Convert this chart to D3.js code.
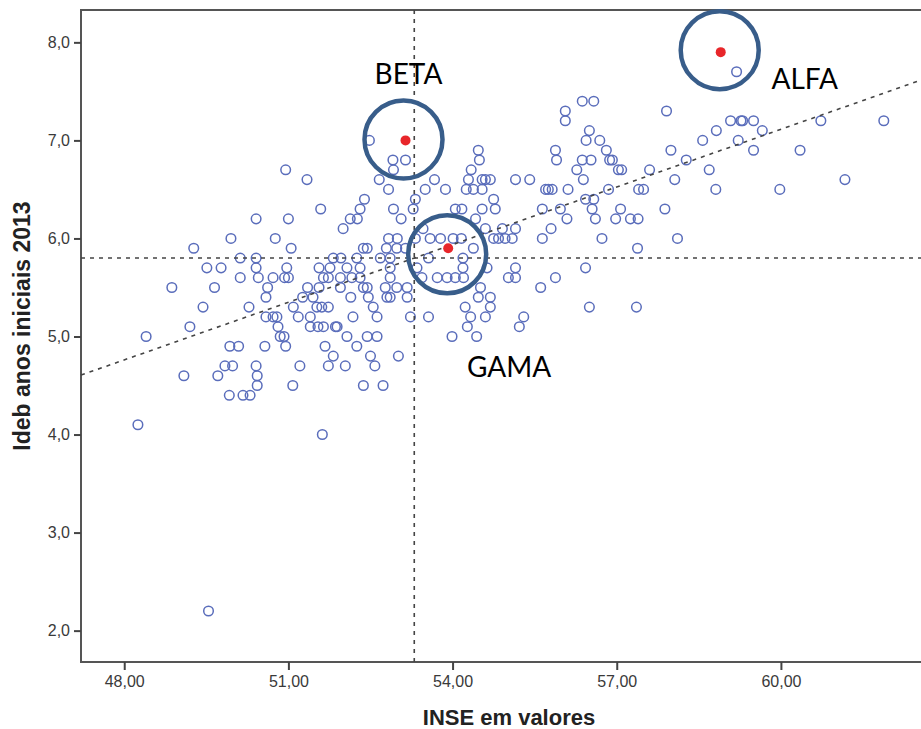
<!DOCTYPE html>
<html>
<head>
<meta charset="utf-8">
<script src="https://cdn.jsdelivr.net/npm/d3@7"></script>
<style>
  body { margin: 0; background: #fff; }
  svg { display: block; }
</style>
</head>
<body>
<svg id="chart" width="921" height="729"></svg>
<script>
// INSE (x) vs Ideb anos iniciais 2013 (y), one pair per school
const schools = [
  [50.95,6.7],[51.34,6.6],[50.41,6.2],[51.0,6.2],[49.95,6.0],[50.76,6.0],[49.27,5.9],[51.05,5.9],
  [50.12,5.8],[50.41,5.8],[49.51,5.7],[49.77,5.7],[50.41,5.7],[50.97,5.7],[50.12,5.6],[50.45,5.6],
  [50.72,5.6],[50.93,5.6],[51.0,5.6],[48.87,5.5],[49.65,5.5],[50.62,5.5],[51.35,5.5],[50.59,5.4],
  [51.26,5.4],[48.40,5.0],[49.20,5.1],[49.44,5.3],[50.28,5.3],[50.59,5.2],[50.72,5.2],[50.79,5.2],
  [50.81,5.1],[50.85,5.0],[50.92,5.0],[50.95,4.9],[51.09,5.3],[51.18,5.2],[51.40,5.1],[49.93,4.9],
  [50.09,4.9],[50.57,4.9],[49.84,4.7],[49.98,4.7],[50.41,4.7],[49.09,4.6],[49.71,4.6],[50.43,4.6],
  [50.43,4.5],[51.08,4.5],[51.21,4.7],[49.92,4.4],[50.17,4.4],[50.30,4.4],[48.25,4.1],[49.54,2.2],
  [52.91,6.8],[53.14,6.8],[52.92,6.7],[52.66,6.6],[52.83,6.5],[53.50,6.5],[53.67,6.6],[52.39,6.4],
  [53.32,6.4],[51.59,6.3],[52.31,6.3],[52.92,6.3],[53.28,6.3],[52.13,6.2],[52.26,6.2],[53.06,6.2],
  [52.00,6.1],[53.46,6.1],[52.83,6.0],[52.99,6.0],[53.32,6.0],[52.37,5.9],[52.44,5.9],[52.79,5.9],
  [52.98,5.9],[53.14,5.9],[51.82,5.8],[51.96,5.8],[52.25,5.8],[52.68,5.8],[52.86,5.8],[53.56,5.8],
  [51.56,5.7],[51.76,5.7],[52.07,5.7],[52.31,5.7],[52.86,5.7],[53.35,5.7],
  [51.64,5.6],[51.73,5.6],[51.95,5.6],[52.16,5.6],[52.31,5.6],[52.86,5.6],[53.44,5.6],
  [51.56,5.5],[51.95,5.5],[52.37,5.5],[52.44,5.5],[52.77,5.5],[52.98,5.5],[53.17,5.5],
  [51.45,5.4],[52.14,5.4],[52.46,5.4],[52.80,5.4],[52.86,5.4],[53.17,5.4],
  [51.52,5.3],[51.61,5.3],[51.73,5.3],[52.55,5.3],
  [51.40,5.2],[52.18,5.2],[52.62,5.2],[53.23,5.2],[53.56,5.2],
  [51.54,5.1],[51.64,5.1],[51.86,5.1],[51.89,5.1],
  [52.07,5.0],[52.44,5.0],[52.62,5.0],[51.67,4.9],[52.25,4.9],
  [51.82,4.8],[52.50,4.8],[53.01,4.8],[51.73,4.7],[52.04,4.7],[52.58,4.7],
  [52.37,4.5],[52.73,4.5],[51.62,4.0],[52.48,7.0],
  [56.37,7.4],[56.58,7.4],[56.06,7.3],[56.06,7.2],[56.50,7.1],[56.44,7.0],[56.69,7.0],
  [54.47,6.9],[55.88,6.9],[56.81,6.9],
  [54.49,6.8],[55.90,6.8],[56.37,6.8],[56.53,6.8],[56.87,6.8],[56.92,6.8],
  [54.34,6.7],[56.27,6.7],[57.03,6.7],[57.09,6.7],
  [54.29,6.6],[54.54,6.6],[54.60,6.6],[54.69,6.6],[55.15,6.6],[55.41,6.6],[56.39,6.6],
  [53.87,6.5],[54.25,6.5],[54.38,6.5],[54.54,6.5],[55.70,6.5],[55.75,6.5],[55.82,6.5],[56.11,6.5],[56.85,6.5],
  [54.75,6.4],[56.43,6.4],[56.58,6.4],
  [54.05,6.3],[54.17,6.3],[54.54,6.3],[54.78,6.3],[55.64,6.3],[55.97,6.3],[56.55,6.3],[57.07,6.3],
  [54.42,6.2],[56.09,6.2],[56.61,6.2],[56.98,6.2],
  [54.60,6.1],[54.91,6.1],[55.15,6.1],[55.80,6.1],
  [53.59,6.0],[53.78,6.0],[54.01,6.0],[54.16,6.0],[54.75,6.0],[54.84,6.0],[54.96,6.0],[55.09,6.0],[55.64,6.0],[56.73,6.0],
  [54.38,5.9],[57.38,5.9],[54.19,5.8],
  [57.91,7.3],[59.08,7.2],[59.27,7.2],[59.30,7.2],[59.50,7.2],[60.73,7.2],[61.88,7.2],[58.82,7.1],
  [59.66,7.1],[58.57,7.0],[59.22,7.0],[57.99,6.9],[59.50,6.9],[60.35,6.9],[58.27,6.8],[57.60,6.7],
  [58.69,6.7],[58.06,6.6],[61.17,6.6],[57.40,6.5],[57.49,6.5],[58.81,6.5],[59.98,6.5],[57.88,6.3],
  [57.25,6.2],[57.39,6.2],[58.11,6.0],[59.19,7.7],
  [54.19,5.7],[54.63,5.7],[55.15,5.7],[56.43,5.7],
  [53.72,5.6],[53.90,5.6],[54.05,5.6],[54.20,5.6],[55.02,5.6],[55.15,5.6],[55.88,5.6],
  [54.51,5.5],[55.61,5.5],[54.47,5.4],[54.69,5.4],
  [54.23,5.3],[54.69,5.3],[56.50,5.3],[57.36,5.3],
  [54.33,5.2],[54.60,5.2],[55.30,5.2],[54.27,5.1],[55.22,5.1],[53.99,5.0],[54.44,5.0]
];

// highlighted schools
const highlighted = [
  { name: "ALFA", inse: 58.90, ideb: 7.9 },
  { name: "BETA", inse: 53.14, ideb: 7.0 },
  { name: "GAMA", inse: 53.92, ideb: 5.9 }
];

const xTicks = [48, 51, 54, 57, 60];
const yTicks = [2, 3, 4, 5, 6, 7, 8];

// reference lines (means) and fit line
const meanInse = 53.3;
const meanIdeb = 5.8;
const fitSlope = 0.196;

const svg = d3.select("#chart");

const x = d3.scaleLinear().domain([47.21, 62.56]).range([81, 921]);
const y = d3.scaleLinear().domain([1.68, 8.33]).range([662, 10]);

const comma = f => d => d3.format(f)(d).replace(".", ",");

// frame
svg.append("path")
  .attr("d", "M921,10H81V662H921")
  .attr("fill", "none")
  .attr("stroke", "#555")
  .attr("stroke-width", 2);

// axes
const yAxis = svg.append("g")
  .attr("transform", "translate(81,0)")
  .call(d3.axisLeft(y).tickValues(yTicks).tickFormat(comma(".1f")).tickSize(7).tickPadding(4));
const xAxis = svg.append("g")
  .attr("transform", "translate(0,662)")
  .call(d3.axisBottom(x).tickValues(xTicks).tickFormat(comma(".2f")).tickSize(8).tickPadding(6));

[yAxis, xAxis].forEach(g => {
  g.select(".domain").remove();
  g.selectAll(".tick line").attr("stroke", "#444").attr("stroke-width", 2);
  g.selectAll(".tick text")
    .attr("fill", "#3a3a3a")
    .style("font-family", "Arial, 'Liberation Sans', sans-serif")
    .style("font-size", "16px");
});

// points
svg.append("g")
  .selectAll("circle")
  .data(schools)
  .join("circle")
  .attr("cx", d => x(d[0]))
  .attr("cy", d => y(d[1]))
  .attr("r", 4.8)
  .attr("fill", "none")
  .attr("stroke", "#5a6dbb")
  .attr("stroke-width", 1.5);

// mean lines
svg.append("line")
  .attr("x1", x(meanInse)).attr("x2", x(meanInse))
  .attr("y1", y.range()[1]).attr("y2", y.range()[0])
  .attr("stroke", "#444").attr("stroke-width", 1.6).attr("stroke-dasharray", "4,5");
svg.append("line")
  .attr("x1", x.range()[0]).attr("x2", x.range()[1])
  .attr("y1", y(meanIdeb)).attr("y2", y(meanIdeb))
  .attr("stroke", "#444").attr("stroke-width", 1.6).attr("stroke-dasharray", "4,5");

// fit line
const xd = x.domain();
const fit = v => meanIdeb + fitSlope * (v - meanInse);
svg.append("line")
  .attr("x1", x(xd[0])).attr("y1", y(fit(xd[0])))
  .attr("x2", x(xd[1])).attr("y2", y(fit(xd[1])))
  .attr("stroke", "#444").attr("stroke-width", 1.6).attr("stroke-dasharray", "4,5");

// annotations
const labelOffset = { ALFA: [84, 37], BETA: [3, -56], GAMA: [61, 129] };
const ringOffset = { ALFA: [-1, -2], BETA: [-2, -1], GAMA: [-1, 6] };
const ann = svg.append("g");
ann.selectAll("circle.ring")
  .data(highlighted)
  .join("circle")
  .attr("class", "ring")
  .attr("cx", d => x(d.inse) + ringOffset[d.name][0])
  .attr("cy", d => y(d.ideb) + ringOffset[d.name][1])
  .attr("r", 39)
  .attr("fill", "none")
  .attr("stroke", "#385d8a")
  .attr("stroke-width", 4.5);
ann.selectAll("circle.dot")
  .data(highlighted)
  .join("circle")
  .attr("class", "dot")
  .attr("cx", d => x(d.inse))
  .attr("cy", d => y(d.ideb))
  .attr("r", 5)
  .attr("fill", "#e8262a");
ann.selectAll("text")
  .data(highlighted)
  .join("text")
  .attr("x", d => x(d.inse) + labelOffset[d.name][0])
  .attr("y", d => y(d.ideb) + labelOffset[d.name][1])
  .attr("text-anchor", "middle")
  .style("font-family", "Lato, sans-serif")
  .style("font-size", "28px")
  .attr("fill", "#000")
  .text(d => d.name);

// axis titles
svg.append("text")
  .attr("x", 509).attr("y", 725)
  .attr("text-anchor", "middle")
  .style("font-family", "Arial, 'Liberation Sans', sans-serif")
  .style("font-size", "22px").style("font-weight", "bold")
  .attr("fill", "#222")
  .text("INSE em valores");
svg.append("text")
  .attr("transform", "translate(30,326) rotate(-90)")
  .attr("text-anchor", "middle")
  .style("font-family", "Arial, 'Liberation Sans', sans-serif")
  .style("font-size", "23px").style("font-weight", "bold")
  .attr("fill", "#222")
  .text("Ideb anos iniciais 2013");
</script>
</body>
</html>
